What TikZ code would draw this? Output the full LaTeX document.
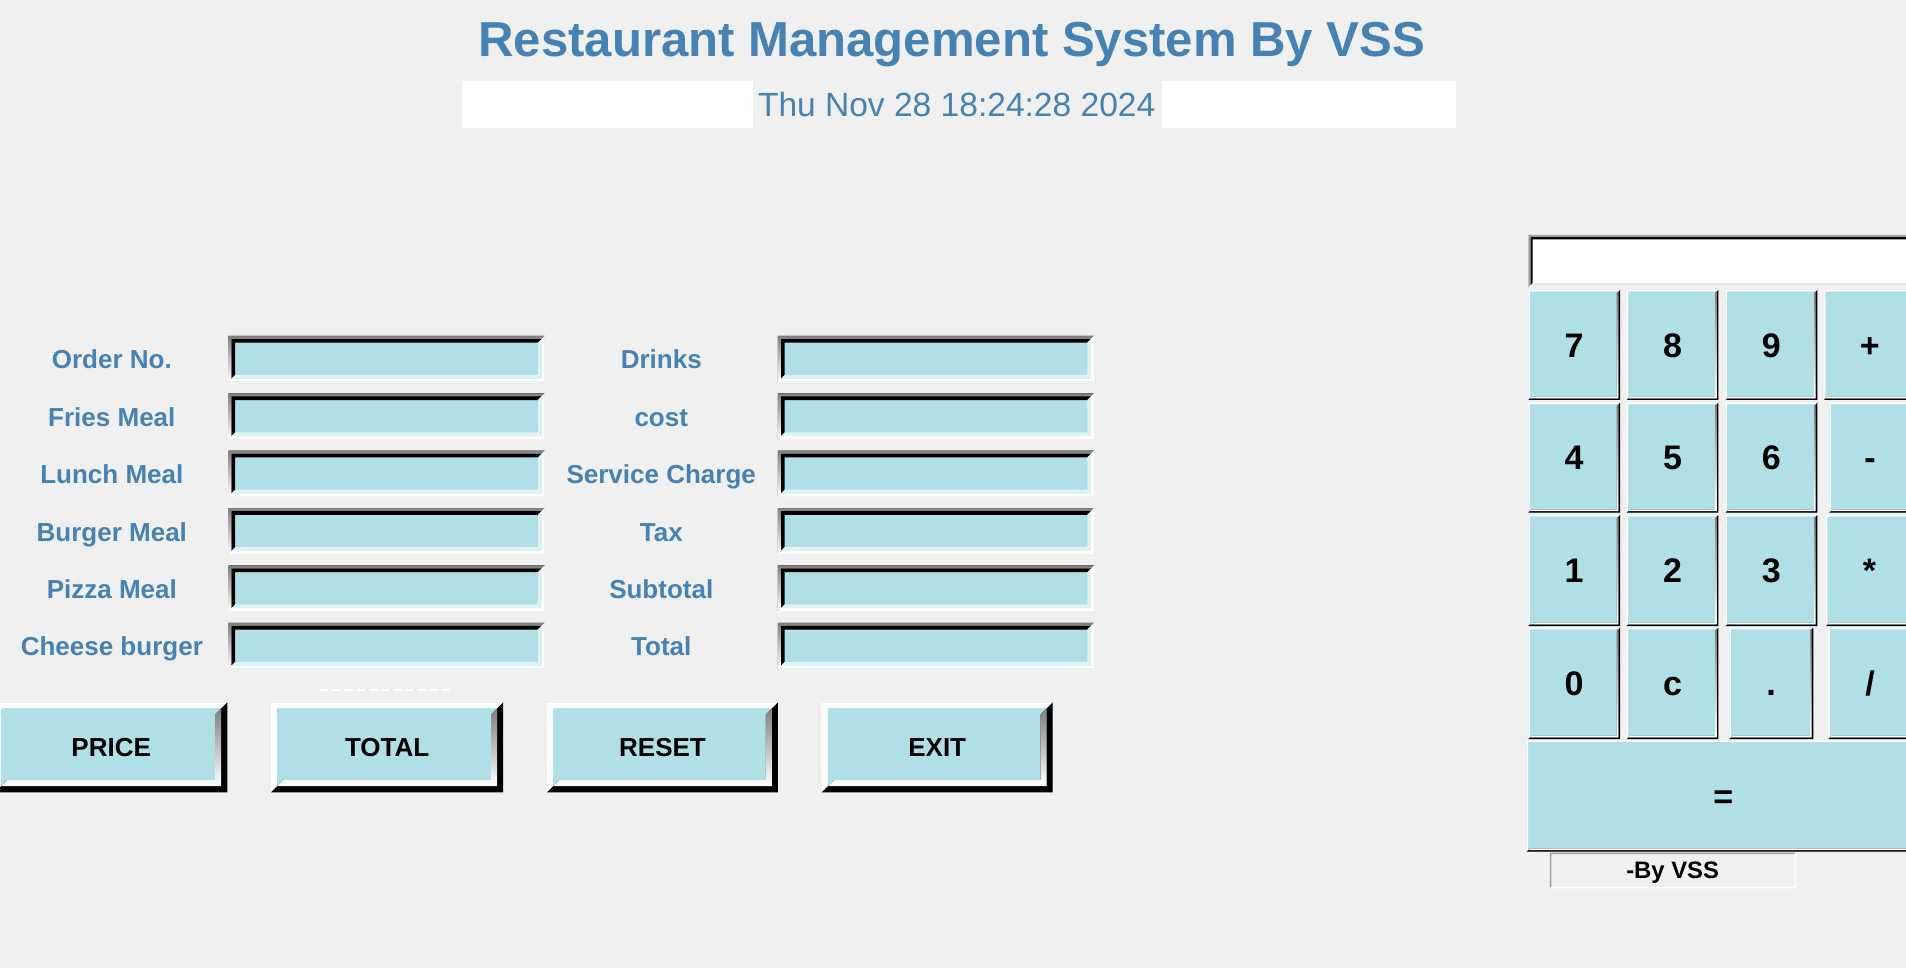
\documentclass[tikz,border=0pt]{standalone}
\usepackage{fontspec}
\setmainfont{Liberation Sans}
\definecolor{winbg}{HTML}{F0F0F0}
\definecolor{steel}{HTML}{4682B4}
\definecolor{powder}{HTML}{B0E0E6}
\definecolor{shade}{HTML}{6A8689}
\definecolor{edgegray}{HTML}{A0A0A0}

% x1 y1 x2 y2 width topleft bottomright
\newcommand{\bevel}[7]{%
  \fill[#6] (#1,#4) -- (#1,#2) -- (#3,#2) -- (#3-#5,#2+#5) -- (#1+#5,#2+#5) -- (#1+#5,#4-#5) -- cycle;
  \fill[#7] (#3,#2) -- (#3,#4) -- (#1,#4) -- (#1+#5,#4-#5) -- (#3-#5,#4-#5) -- (#3-#5,#2+#5) -- cycle;
}
% entry field, top left corner
\newcommand{\entrybox}[2]{%
  \fill[powder] (#1,#2) rectangle (#1+260,#2+37.6);
  \bevel{#1}{#2}{#1+260}{#2+37.6}{2.5}{shade}{white}
  \bevel{#1+2.5}{#2+2.5}{#1+257.5}{#2+35.1}{3}{black}{powder!40!white}
}
% big raised button
\newcommand{\bigbutton}[4]{%
  \fill[powder] (#1,#2) rectangle (#3,#4);
  \bevel{#1}{#2}{#3}{#4}{5}{white}{black}
  \bevel{#1+5}{#2+5}{#3-5}{#4-5}{5}{powder}{shade}
}
% calculator key
\newcommand{\calckey}[4]{%
  \fill[powder] (#1,#2) rectangle (#3,#4);
  \bevel{#1}{#2}{#3}{#4}{1.3}{white}{black}
  \bevel{#1+1.3}{#2+1.3}{#3-1.3}{#4-1.3}{1.3}{powder}{shade}
}

\tikzset{
  heading/.style={font=\fontsize{20.2}{24}\selectfont\bfseries, text=steel, anchor=base, inner sep=0},
  clock/.style={font=\fontsize{13.8}{16}\selectfont, text=steel, anchor=base, inner sep=0},
  lbl/.style={font=\fontsize{10.7}{13}\selectfont\bfseries, text=steel, anchor=base, inner sep=0},
  btntext/.style={font=\fontsize{10.7}{13}\selectfont\bfseries, anchor=base, inner sep=0},
  keytext/.style={font=\fontsize{14}{16}\selectfont\bfseries, anchor=base, inner sep=0},
  credit/.style={font=\fontsize{9.8}{12}\selectfont\bfseries, anchor=base, inner sep=0},
}

\begin{document}
\begin{tikzpicture}[x=0.5pt, y=-0.5pt]
    \clip (0,0) rectangle (1568,796);
    \fill[winbg] (0,0) rectangle (1568,796);

    % header
    \node[heading] (title) at (783,46.6) {Restaurant Management System By VSS};
    \fill[white] (380,66.6) rectangle (619.6,105);
    \fill[white] (956,66.6) rectangle (1198,105);
    \node[clock] (date) at (787,96) {Thu Nov 28 18:24:28 2024};

    % order fields
    \entrybox{188}{276.4}
    \entrybox{188}{323.6}
    \entrybox{188}{370.8}
    \entrybox{188}{418}
    \entrybox{188}{465.2}
    \entrybox{188}{512.4}
    \entrybox{640}{276.4}
    \entrybox{640}{323.6}
    \entrybox{640}{370.8}
    \entrybox{640}{418}
    \entrybox{640}{465.2}
    \entrybox{640}{512.4}

    \node[lbl] (l_order) at (92,303.5) {Order No.};
    \node[lbl] (l_fries) at (92,350.7) {Fries Meal};
    \node[lbl] (l_lunch) at (92,397.9) {Lunch Meal};
    \node[lbl] (l_burger) at (92,445.1) {Burger Meal};
    \node[lbl] (l_pizza) at (92,492.3) {Pizza Meal};
    \node[lbl] (l_cheese) at (92,539.5) {Cheese burger};

    \node[lbl] (l_drinks) at (544,303.5) {Drinks};
    \node[lbl] (l_cost) at (544,350.7) {cost};
    \node[lbl] (l_service) at (544,397.9) {Service Charge};
    \node[lbl] (l_tax) at (544,445.1) {Tax};
    \node[lbl] (l_subtotal) at (544,492.3) {Subtotal};
    \node[lbl] (l_total) at (544,539.5) {Total};

    \draw[white, line width=0.8, dash pattern=on 3 off 2] (264,567.6) -- (371,567.6);

    % buttons
    \bigbutton{-4}{577.8}{187}{651.8}
    \bigbutton{223}{577.8}{414}{651.8}
    \bigbutton{450}{577.8}{640}{651.8}
    \bigbutton{676}{577.8}{866}{651.8}
    \node[btntext] (b_price) at (91.5,622) {PRICE};
    \node[btntext] (b_total) at (318.5,622) {TOTAL};
    \node[btntext] (b_reset) at (545,622) {RESET};
    \node[btntext] (b_exit) at (771,622) {EXIT};

    % calculator display
    \fill[white] (1257.3,193.3) rectangle (1600,236.5);
    \bevel{1257.3}{193.3}{1600}{236.5}{1.8}{edgegray}{winbg}
    \bevel{1259.1}{195.1}{1598}{234.7}{1.8}{black}{white!90!black}

    % calculator keys
    \calckey{1257.3}{238.6}{1332.7}{329}
    \calckey{1338.2}{238.6}{1413.6}{329}
    \calckey{1419.6}{238.6}{1495}{329}
    \calckey{1500.5}{238.6}{1576}{329}
    \calckey{1257.3}{331.3}{1332.7}{421.7}
    \calckey{1338.2}{331.3}{1413.6}{421.7}
    \calckey{1419.6}{331.3}{1495}{421.7}
    \calckey{1504.9}{331.3}{1572}{421.7}
    \calckey{1257.3}{423.7}{1332.7}{515}
    \calckey{1338.2}{423.7}{1413.6}{515}
    \calckey{1419.6}{423.7}{1495}{515}
    \calckey{1502.2}{423.7}{1574}{515}
    \calckey{1257.3}{516.4}{1332.7}{608}
    \calckey{1338.2}{516.4}{1413.6}{608}
    \calckey{1422.6}{516.4}{1491.7}{608}
    \calckey{1504}{516.4}{1573}{608}
    \calckey{1256}{609.3}{1580}{700.6}

    \node[keytext] (k7) at (1295,293.8) {7};
    \node[keytext] (k8) at (1375.9,293.8) {8};
    \node[keytext] (k9) at (1457.3,293.8) {9};
    \node[keytext] (kplus) at (1538.3,293.8) {+};
    \node[keytext] (k4) at (1295,386.5) {4};
    \node[keytext] (k5) at (1375.9,386.5) {5};
    \node[keytext] (k6) at (1457.3,386.5) {6};
    \node[keytext] (kminus) at (1538.4,386.5) {-};
    \node[keytext] (k1) at (1295,479.4) {1};
    \node[keytext] (k2) at (1375.9,479.4) {2};
    \node[keytext] (k3) at (1457.3,479.4) {3};
    \node[keytext] (ktimes) at (1538,479.4) {*};
    \node[keytext] (k0) at (1295,572.2) {0};
    \node[keytext] (kclear) at (1375.9,572.2) {c};
    \node[keytext] (kdot) at (1457,572.2) {.};
    \node[keytext] (kdiv) at (1538.4,572.2) {/};
    \node[keytext] (kequal) at (1417.6,665) {=};

    % credit
    \bevel{1275}{701.5}{1477.5}{730.8}{1.2}{edgegray}{white}
    \node[credit] (byvss) at (1376,722.5) {-By VSS};
\end{tikzpicture}
\end{document}
